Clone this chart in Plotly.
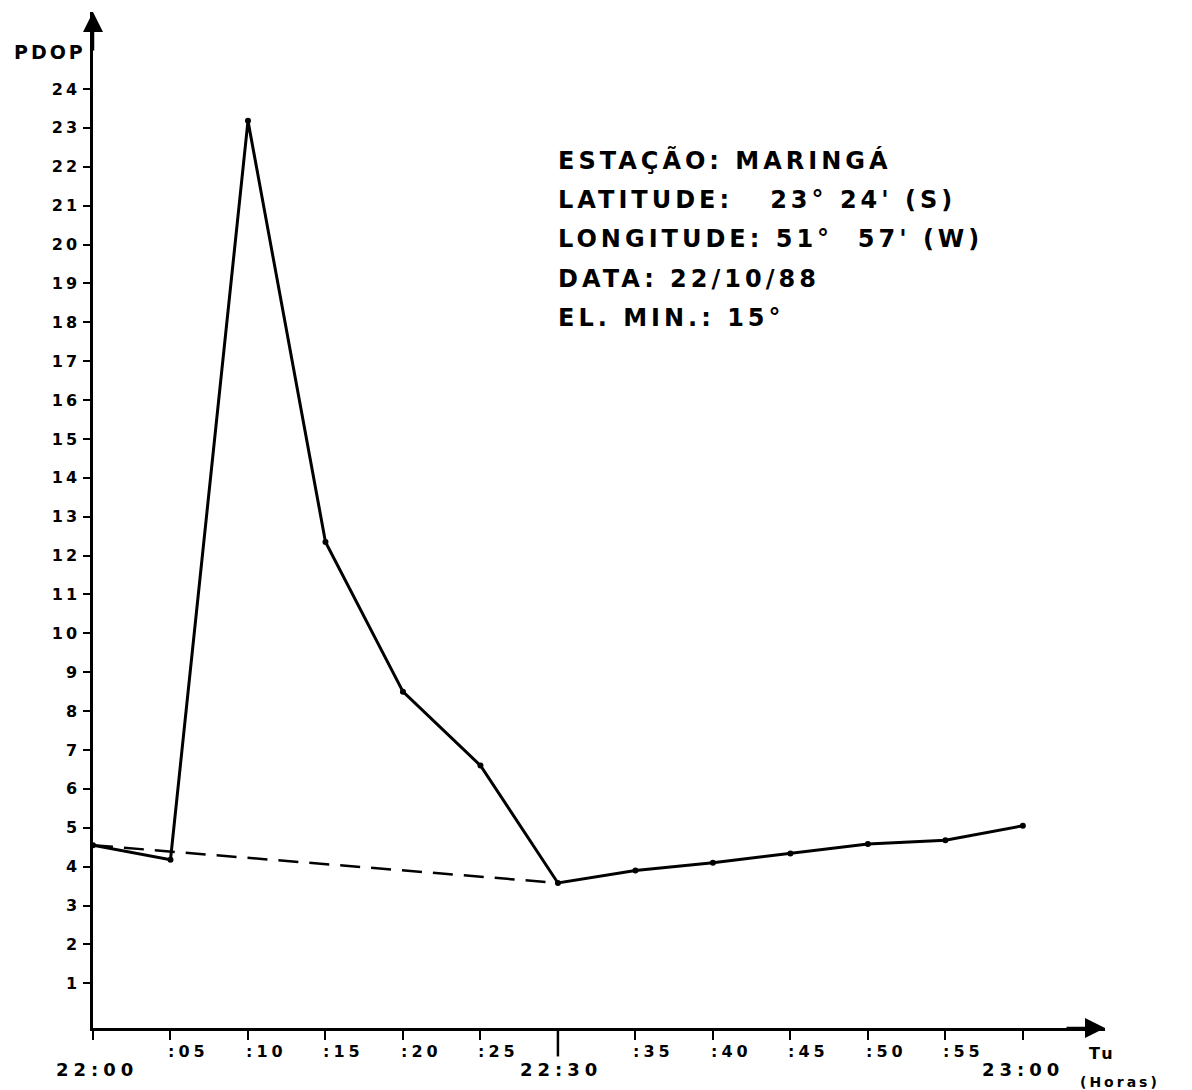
import plotly.graph_objects as go

# ---- data ----
minutes = [0, 5, 10, 15, 20, 25, 30, 35, 40, 45, 50, 55, 60]
pdop = [4.55, 4.18, 23.18, 12.35, 8.5, 6.6, 3.58, 3.9, 4.1, 4.34, 4.58, 4.68, 5.05]
dash_minutes = [0, 30]
dash_pdop = [4.55, 3.58]
y_ticks = list(range(1, 25))
minor_x = [5, 10, 15, 20, 25, 35, 40, 45, 50, 55]
minor_labels = [":05", ":10", ":15", ":20", ":25", ":35", ":40", ":45", ":50", ":55"]
major_x = [0, 30, 60]
major_labels = ["22:00", "22:30", "23:00"]
info_lines = ["ESTAÇÃO: MARINGÁ", "LATITUDE:   23° 24' (S)", "LONGITUDE: 51°  57' (W)",
              "DATA: 22/10/88", "EL. MIN.: 15°"]

FONT = "DejaVu Sans"


def wide(s, ls):
    return f'<span style="letter-spacing:{ls}px">{s}</span>'


fig = go.Figure()
fig.add_trace(go.Scatter(x=dash_minutes, y=dash_pdop, mode="lines",
                         line=dict(color="black", width=2.5, dash="20px,11px"),
                         showlegend=False, hoverinfo="skip"))
fig.add_trace(go.Scatter(x=minutes, y=pdop, mode="lines+markers",
                         line=dict(color="black", width=3),
                         marker=dict(color="black", size=6),
                         showlegend=False))

ann = []
for x, t in zip(minor_x, minor_labels):
    ann.append(dict(x=x, y=0, xref="x", yref="paper", text="<b>" + wide(t, 4) + "</b>",
                    showarrow=False, xanchor="left", yanchor="middle", xshift=-4, yshift=-23,
                    font=dict(family=FONT, size=16, color="black")))
major_shift = [4, 3, 0]
for x, t, s in zip(major_x, major_labels, major_shift):
    ann.append(dict(x=x, y=0, xref="x", yref="paper", text="<b>" + wide(t, 5) + "</b>",
                    showarrow=False, xanchor="center", yanchor="middle", xshift=s, yshift=-41,
                    font=dict(family=FONT, size=18, color="black")))
# text block
for i, line in enumerate(info_lines):
    ann.append(dict(x=0.458, y=0.8543 - i * 0.0389, xref="paper", yref="paper",
                    text="<b>" + wide(line, 4) + "</b>", showarrow=False,
                    xanchor="left", yanchor="middle",
                    font=dict(family=FONT, size=24, color="black")))
# axis labels
ann.append(dict(x=0, y=1, xref="paper", yref="paper", text="<b>" + wide("PDOP", 3) + "</b>",
                showarrow=False, xanchor="right", yanchor="middle", xshift=-5, yshift=-40,
                font=dict(family=FONT, size=19, color="black")))
ann.append(dict(x=1, y=0, xref="paper", yref="paper", text="<b>" + wide("Tu", 3) + "</b>",
                showarrow=False, xanchor="left", yanchor="middle", xshift=-18, yshift=-25,
                font=dict(family=FONT, size=16, color="black")))
ann.append(dict(x=1, y=0, xref="paper", yref="paper", text="<b>" + wide("(Horas)", 3) + "</b>",
                showarrow=False, xanchor="left", yanchor="middle", xshift=-27, yshift=-54,
                font=dict(family=FONT, size=14, color="black")))
# arrowheads
ann.append(dict(x=0, y=1, xref="paper", yref="paper", ax=0, ay=40, text="",
                showarrow=True, arrowhead=2, arrowsize=1.6, arrowwidth=2.5, arrowcolor="black"))
ann.append(dict(x=1, y=0, xref="paper", yref="paper", ax=-40, ay=0, text="",
                showarrow=True, arrowhead=2, arrowsize=1.6, arrowwidth=2.5, arrowcolor="black"))

# longer tick at 22:30
shapes = [dict(type="line", xref="x", yref="paper", x0=30, x1=30, y0=0, y1=-0.028,
               line=dict(color="black", width=2.5))]

fig.update_layout(
    width=1184, height=1082,
    margin=dict(l=85, r=87, t=4, b=62),
    plot_bgcolor="white", paper_bgcolor="white",
    annotations=ann, shapes=shapes,
    xaxis=dict(range=[0, 65.3], showgrid=False, zeroline=False, showline=True,
               linecolor="black", linewidth=2.5, ticks="outside", ticklen=9,
               tickwidth=2, tickcolor="black", tickvals=minutes, showticklabels=False),
    yaxis=dict(range=[-0.15, 25.98], showgrid=False, zeroline=False, showline=True,
               linecolor="black", linewidth=2.5, ticks="outside", ticklen=7,
               tickwidth=2, tickcolor="black", tickvals=y_ticks,
               ticktext=[f"<b>{wide(v, 3)}</b>" for v in y_ticks],
               tickfont=dict(family=FONT, size=16, color="black")),
)

fig.write_html("out.html")
